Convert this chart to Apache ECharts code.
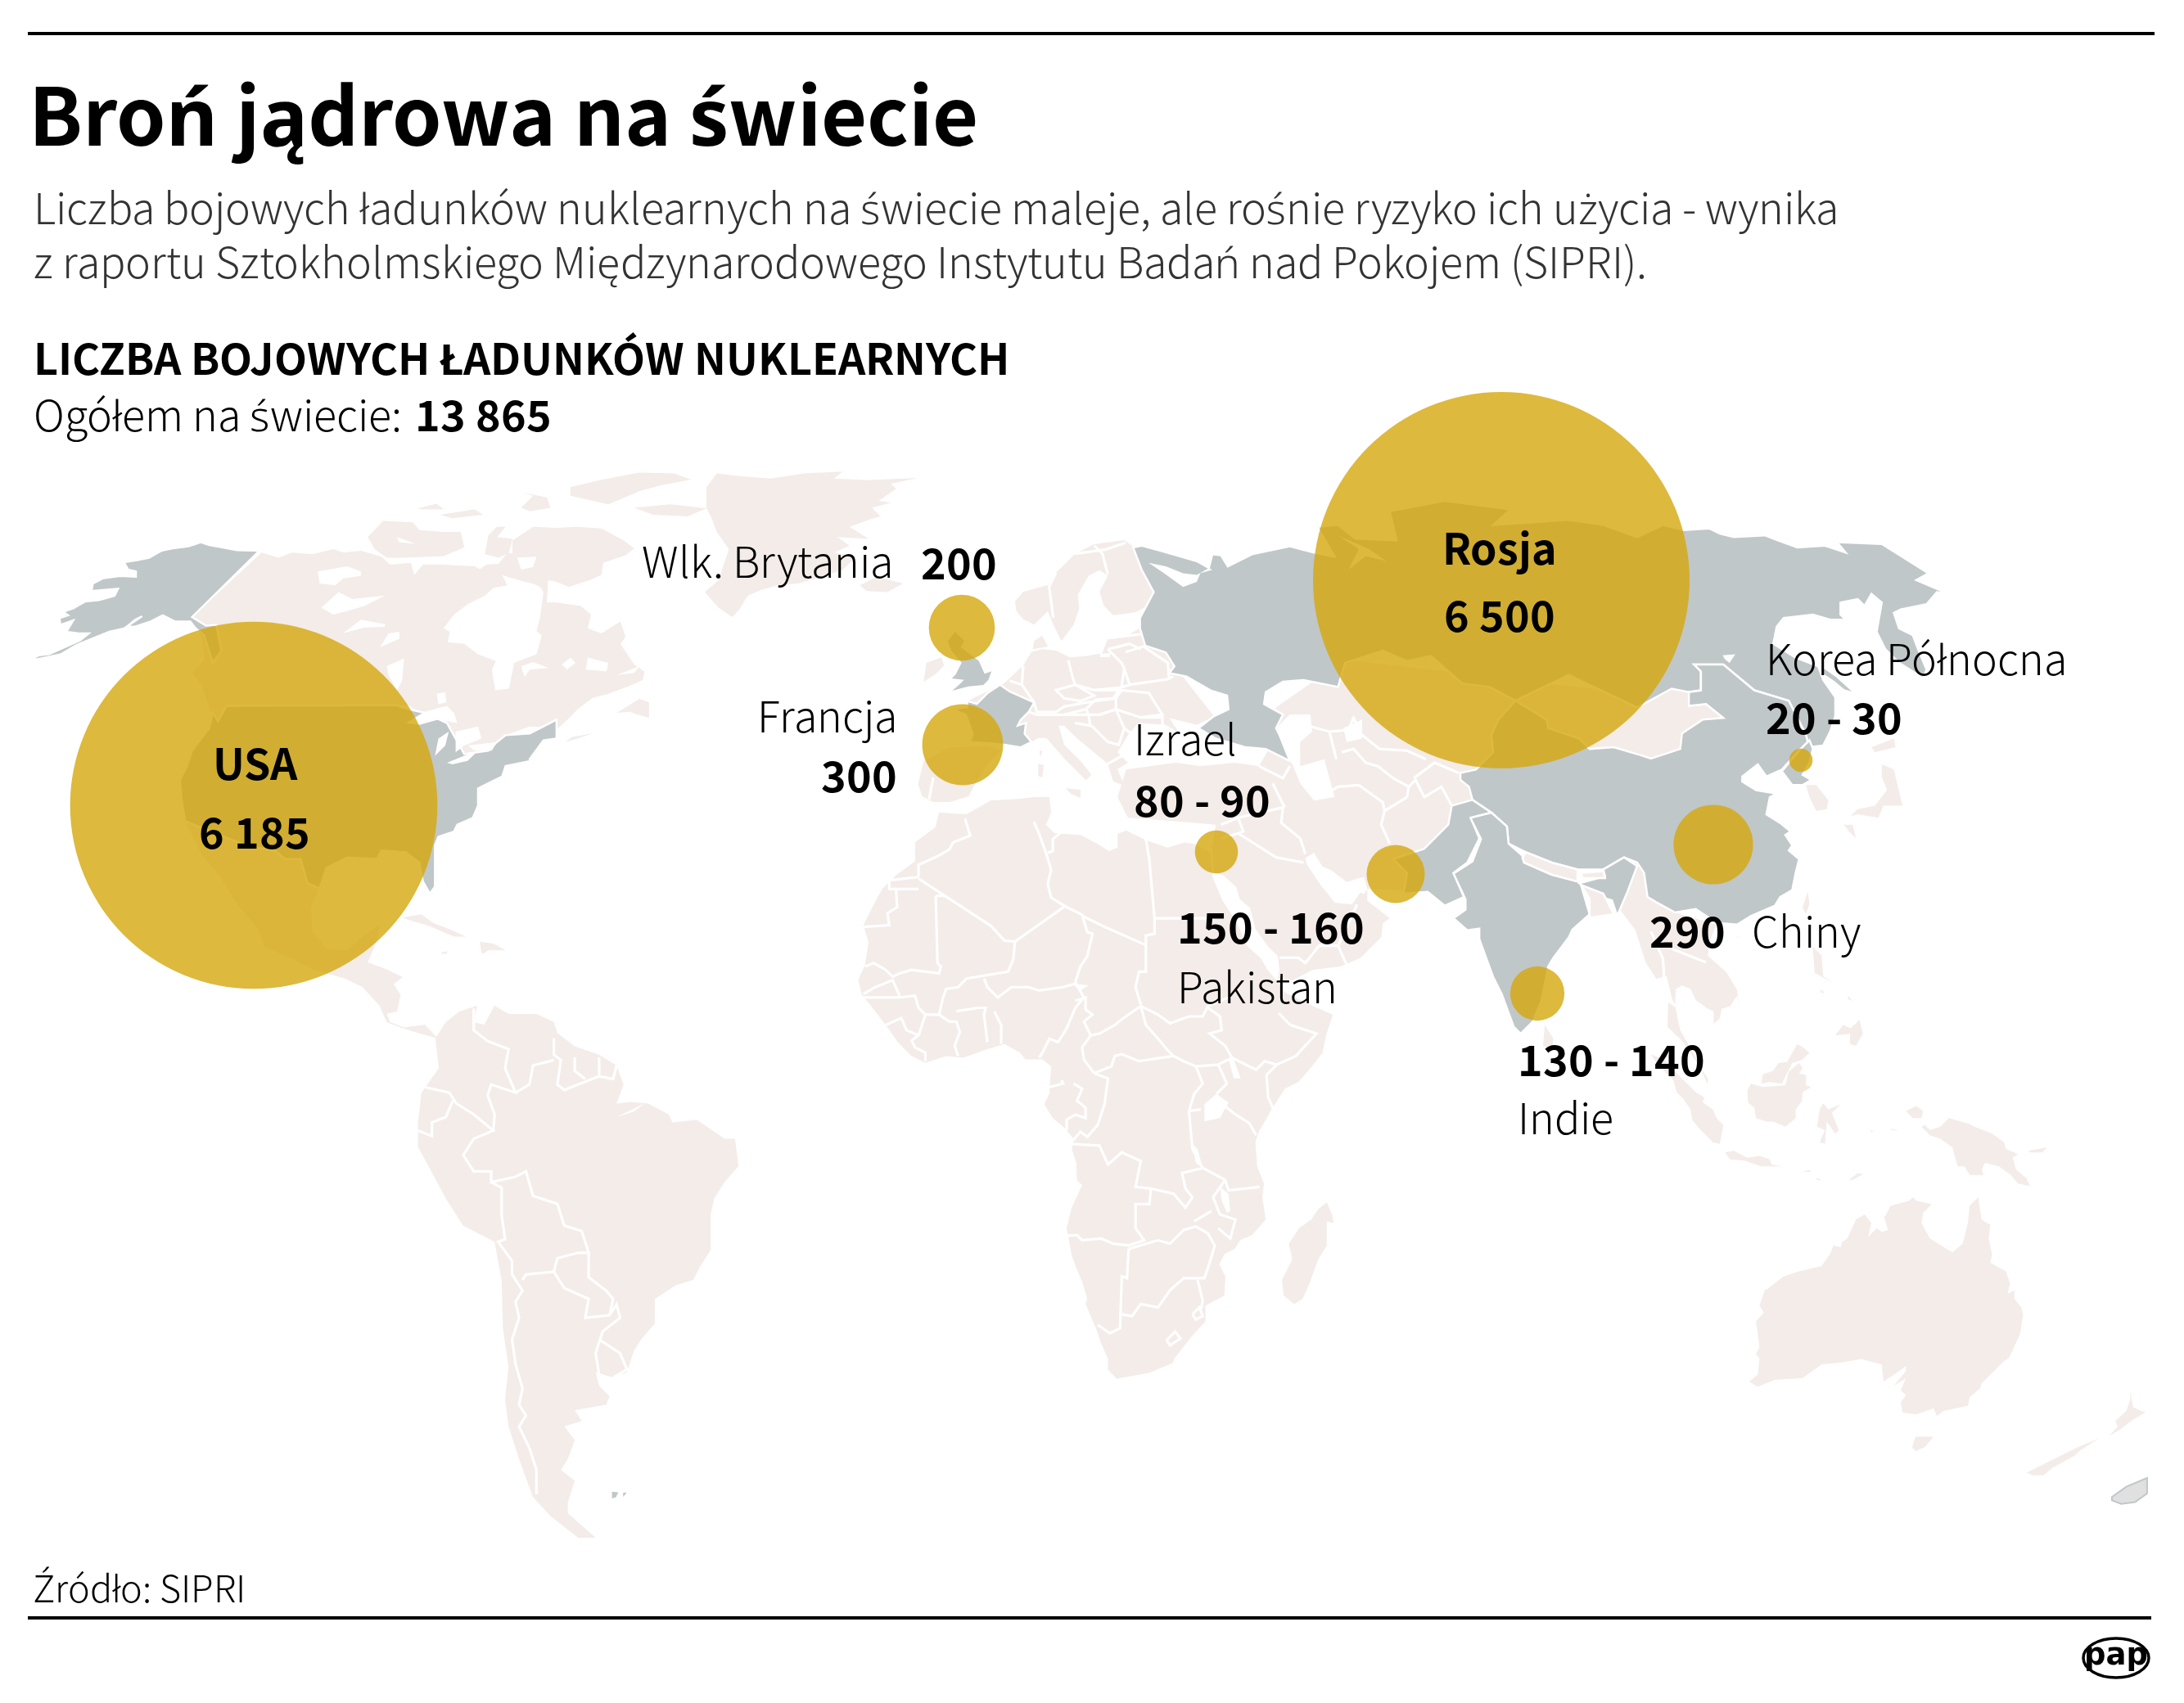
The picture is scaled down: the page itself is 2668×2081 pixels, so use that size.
<!DOCTYPE html>
<html>
<head>
<meta charset="utf-8">
<title>Broń jądrowa na świecie</title>
<style>
  /* the CJK font has the right latin letters but stacks Polish accents badly, so those letters come from the fallback */
  @font-face {
    font-family: "PapBold";
    font-weight: 700;
    src: local("Noto Sans CJK SC Bold"), local("NotoSansCJKsc-Bold");
    unicode-range: U+0020-007E, U+00D3, U+00F3;
  }
  @font-face {
    font-family: "PapLight";
    font-weight: 300;
    src: local("Noto Sans CJK SC Light"), local("NotoSansCJKsc-Light"), local("Noto Sans CJK SC DemiLight"), local("NotoSansCJKsc-DemiLight");
    unicode-range: U+0020-007E, U+00D3, U+00F3;
  }
  html, body { margin: 0; padding: 0; background: #fff; }
  #chart { width: 2668px; height: 2081px; }
</style>
<script src="https://cdn.jsdelivr.net/npm/echarts@6/dist/echarts.min.js"></script>
</head>
<body>
<div id="chart"></div>
<script>
// warheads per country, ranges use their middle for the bubble area
var countries = ['USA', 'Rosja', 'Wlk. Brytania', 'Francja', 'Izrael', 'Pakistan', 'Indie', 'Chiny', 'Korea Północna'];
var warheads = [6185, 6500, 200, 300, 85, 155, 135, 290, 25];
var warheadLabels = ['6 185', '6 500', '200', '300', '80 - 90', '150 - 160', '130 - 140', '290', '20 - 30'];
var bubbleX = [310, 1834, 1175, 1176, 1486, 1705, 1878, 2093, 2200];
var bubbleY = [984, 709, 767, 910, 1041, 1068, 1214, 1032, 929];
var totalLabel = '13 865';

function sheet(ox, oy, sx, sy) {
  sy = sy || sx;
  return function (flat) {
    var pts = [];
    for (var i = 0; i < flat.length; i += 2) {
      pts.push([ox + flat[i] / sx, oy + flat[i + 1] / sy]);
    }
    return pts;
  };
}
var A = sheet(20, 570, 2.376);
var B = sheet(680, 570, 2.376);
var C = sheet(1340, 570, 2.376);
var D = sheet(2000, 570, 2.376);
var E = sheet(1000, 1000, 2.376);
var F = sheet(2000, 1200, 2.376);
var G = sheet(1300, 1000, 2.376);
var K = sheet(1334, 440, 1.175, 1.5077);
var S = sheet(0, 1040, 1.175, 1.5077);
var U = sheet(1060, 640, 3);

var landShapes = [
  // Canada
  [].concat(A([712,250,760,265,800,250,860,255,920,240,950,250,1000,245,1060,262,1085,285,1145,280,1155,315,1180,285,1240,285,1330,290,1345,298,1365,285,1400,283,1425,250,1450,255,1465,300,1510,290,1545,298,1540,395,1568,395]),
    B([70,405,100,430,90,470,130,485,185,450,200,495,185,515,205,545,225,575,255,595,250,620,205,640,150,660,105,672,60,705,45,722,5,760]),
    A([1490,755,1420,780,1395,800,1370,825,1300,835,1255,860,1230,770,1180,720,1140,695,610,695,605,720,580,740,565,715,540,640,510,600,545,560,540,500,510,437])),
  // arctic islands
  A([1020,205,1065,158,1150,162,1170,185,1240,190,1290,190,1300,235,1240,260,1130,265,1075,265,1040,240]),
  A([1165,122,1220,108,1240,125,1180,125]),
  A([1230,140,1330,125,1355,140,1265,150]),
  A([1370,200,1395,175,1420,175,1395,205,1440,210,1430,250,1400,265,1360,255]),
  A([1465,120,1500,85,1470,75,1540,90,1550,120,1490,130]),
  [].concat(A([1440,215,1500,175,1568,178]), B([60,175,130,180,195,215,225,238,200,258,135,280,130,315,95,330,35,350,0,335]), A([1520,325,1500,290,1510,262,1440,265])),
  B([40,60,125,40,240,18,340,20,390,38,300,55,240,72,150,110,40,85]),
  B([225,120,330,110,435,122,380,145,280,140]),
  // Greenland, Iceland
  B([435,60,465,20,530,28,620,35,720,20,830,15,805,35,900,40,1050,33,970,50,985,65,935,100,970,105,915,120,940,145,905,155,850,175,905,210,815,205,850,230,805,250,870,262,830,300,770,320,700,340,640,345,590,360,555,375,530,415,510,437,470,410,430,365,470,330,500,240,465,190,450,150,435,120]),
  B([880,345,930,320,1005,340,960,365,900,362]),
  // Newfoundland, Nova Scotia
  B([175,715,240,675,268,685,268,730,210,712]),
  B([25,800,45,785,105,775,60,790]),
  // Mexico and Central America
  [].concat(A([880,1225,855,1280,860,1350,900,1400,960,1405,1010,1360,1055,1330,1045,1380,1020,1440]),
    S([528,205,555,218,578,232,565,245,575,265,570,295,555,300,560,315,580,325,610,320,628,345,600,335,575,325,555,315,545,285,520,250,495,235]),
    A([860,1460,800,1430,720,1395,700,1340,640,1270,590,1190,540,1130,490,1030,590,1070,680,1105,750,1115,780,1140,825,1140,845,1210])),
  A([1120,1310,1175,1300,1210,1325,1260,1345,1305,1365,1270,1365,1200,1335,1150,1320]),
  A([1350,1410,1345,1380,1385,1385,1420,1405,1370,1405,1355,1415]),
  A([1235,1410,1250,1408,1250,1415,1235,1415]),
  // South America
  S([625,345,640,315,660,295,685,285,680,315,695,320,710,285,730,300,770,300,795,315,800,335,825,360,860,375,885,395,895,430,885,465,905,462,930,465,960,485,965,500,1000,495,1040,530,1055,530,1060,580,1040,610,1025,640,1020,670,1020,735,1005,765,995,790,970,800,940,825,940,870,920,900,910,920,900,960,880,970,855,960,860,985,875,1005,870,1020,825,1030,835,1050,810,1060,825,1085,815,1120,805,1140,825,1160,815,1200,815,1220,855,1265,830,1265,790,1225,765,1190,745,1120,730,1060,725,1010,730,950,722,880,720,790,710,720,665,690,640,640,615,580,600,545,600,500,605,445,630,400]),
  // Africa
  [].concat(B([1110,1005,1190,1010,1260,970,1340,965,1385,960,1430,960,1435,1005,1420,1040,1445,1065,1520,1070,1568,1095]),
    G([130,95,155,85,155,45,180,35,240,65,300,85,350,70,380,75,425,100,430,170,460,240,500,300,530,370,570,405,590,440,620,475,640,505,700,535,780,570,760,630,750,680,715,725,680,765,640,785,605,840,565,910,555,940,560,1010,580,1060,575,1100,585,1165,545,1210,510,1225,495,1250,465,1265,450,1295,468,1330,465,1385,410,1415,410,1460,365,1510,320,1568]),
    E([1027,1582,960,1610,865,1627,840,1600,840,1568,820,1525,805,1480,775,1410,780,1395,765,1345,750,1310,735,1270,720,1190,735,1130,765,1065,750,1050,748,1000,735,960,740,930,715,900,680,870,655,830,670,800,675,720,650,700,600,700,585,680,540,655,490,670,420,695,370,690,310,710,270,690,230,650,195,600,160,555,125,510,115,470,135,425,145,360,130,310,160,250,185,205,225,165,280,125,280,70,340,25,345,0])),
  E([1475,1115,1490,1150,1495,1175,1475,1170,1475,1240,1450,1280,1425,1350,1405,1395,1380,1410,1350,1385,1345,1340,1375,1280,1365,1235,1395,1190,1430,1165,1450,1135]),
  // Europe
  [].concat(U([365,650,500,585,570,520,600,470,640,460,690,465,740,490,800,485,860,475,880,420,960,405,1000,380,1010,320]),
    C([180,450,225,580,340,725,290,750,210,730,240,775,200,750,120,745,90,780,60,830,90,860]),
    U([915,900,940,960,900,945,880,880,820,830,760,780,720,740,700,740,720,810,780,870,820,920,800,940,720,860,655,785,625,785,600,800,500,700])),
  U([205,870,300,820,440,815,490,830,440,880,395,950,370,1000,300,1020,240,1020,200,1000,185,955]),
  U([540,285,570,250,660,225,690,180,760,110,830,75,940,60,975,85,1000,150,1050,260,1010,310,980,325,900,335,865,300,850,250,880,190,850,170,810,190,770,260,775,310,755,370,710,430,680,370,660,320,610,370,570,350,545,320]),
  U([610,430,640,410,660,450,605,460]),
  U([215,510,270,490,280,520,250,550,205,580]),
  U([725,970,780,975,780,1005,745,990]),
  U([625,880,645,885,640,930,625,925]),
  U([630,830,640,835,632,855]),
  // western and central Asia
  [].concat(C([85,880,60,960,90,1020,230,1030,345,1040,335,1105,340,1180]),
    G([462,165,500,200,510,235,540,260,555,320,590,370,620,400,625,440,620,465,665,470,720,440,800,430,815,425,860,405,890,375,920,345,925,305,945,290,920,270,880,240,880,205]),
    C([960,1235,1015,1275,1100,1100,1300,1000,1568,900,1568,660,1215,620,720,560,520,700,500,820,470,870,400,860,300,870,230,860])),
  // Mongolia
  D([0,700,100,645,150,655,150,695,200,690,250,730,190,735,130,775,125,820,40,848,0,835]),
  // Burma, Indochina, Malaya
  [].concat(K([745,990,780,1050,795,1110,810,1140,825,1135,835,1190]),
    F([90,60,88,130,130,170,205,280,205,298,170,220,125,140,110,70,112,20,130,10,155,20,170,52,205,78,222,85,222,122,240,105,245,78,270,70,290,40]),
    D([295,1568,290,1520,260,1470,205,1420,210,1380,230,1330,110,1295,55,1265,30,1250,20,1180,0,1140,-30,1140,-100,1270])),
  // islands of the east
  D([490,925,520,925,555,970,550,995,520,1000,500,960]),
  D([710,865,745,880,770,985,715,985,700,1020,640,1010,620,1015,640,995,690,985,725,940,710,900]),
  D([680,815,745,790,750,815,690,830]),
  D([600,1040,625,1040,635,1080,615,1060]),
  D([480,1280,495,1235,500,1270,490,1300]),
  D([510,1395,535,1420,540,1480,570,1500,515,1470]),
  G([1395,600,1420,640,1415,675,1390,660]),
  F([575,155,598,125,620,135,645,110,655,150,635,185,618,180,618,150]),
  F([530,20,545,30,535,32]),
  F([612,40,625,55,612,50]),
  F([320,315,330,295,365,305,430,300,440,260,470,235,480,250,470,265,490,270,490,300,505,305,480,320,478,345,460,370,460,395,430,420,395,405,375,405,345,395,340,365,322,350]),
  F([360,295,365,268,395,258,410,235,435,232,465,180,478,188,500,205,480,225,450,235,435,265,420,295,385,290]),
  F([40,210,80,225,120,270,170,320,195,335,190,350,220,370,230,395,250,415,240,470,220,465,180,425,160,400,155,370,135,340,115,320,105,285,60,240]),
  F([255,495,280,490,320,510,355,505,385,515,390,530,420,535,360,535,310,518,270,515]),
  F([540,352,555,370,590,355,565,380,585,430,575,440,550,405,545,470,530,465,545,430,522,420,530,370]),
  F([780,375,810,360,830,375,825,395,800,395]),
  F([835,415,850,430,880,420,905,395,965,412,978,420,1030,440,1065,465,1070,485,1105,500,1090,510,1100,545,1130,570,1140,592,1105,585,1085,560,1050,535,1010,525,1000,545,1005,560,965,560,950,535,930,535,915,480,880,455,850,445,825,420]),
  F([1135,490,1190,480,1175,495,1140,495]),
  F([615,575,640,555,655,558,625,575]),
  F([480,550,500,545,505,552]),
  F([520,568,535,575,522,575]),
  F([735,425,760,432,740,430]),
  F([675,432,688,432,680,436]),
  F([720,680,735,650,790,635,800,625,810,635,855,645,830,670,825,700,850,745,890,770,915,785,945,760,960,700,965,650,990,625,995,660,1000,690,1025,705,1020,745,1030,790,1025,815,1070,840,1082,875,1075,905,1095,895,1095,920,1115,945,1120,965,1112,1020,1080,1090,1060,1105,1000,1165,995,1180,965,1205,960,1230,890,1245,870,1260,860,1238,810,1255,770,1250,765,1220,780,1200,765,1185,780,1150,745,1172,780,1130,780,1115,745,1140,715,1160,710,1110,650,1095,590,1105,535,1110,480,1150,400,1155,350,1175,325,1160,350,1140,355,1095,345,1080,355,1060,350,1020,345,985,368,960,355,940,370,895,380,890,425,855,470,840,535,825,560,790,570,765,590,770,595,755,610,745,635,690,660,675,680,700,670,740,695,715,710,725,728,720,716,680]),
  F([808,1320,860,1320,835,1350,808,1362,798,1350]),
  F([1430,1185,1440,1235,1475,1250,1440,1270,1400,1300,1370,1318,1395,1290,1388,1275,1420,1245,1432,1210]),
  F([1130,1425,1190,1395,1280,1350,1340,1325,1285,1360,1270,1375,1205,1410,1180,1432,1150,1432])
];

// nuclear powers, drawn over the land in grey
var nuclearShapes = {
  alaska: A([705,245,640,243,600,235,560,228,535,220,500,232,450,238,420,245,385,265,350,272,312,278,325,300,347,305,347,320,300,318,250,325,222,340,218,362,295,355,285,375,240,388,200,392,165,412,135,422,150,432,125,440,128,460,165,447,145,480,185,485,210,485,185,505,140,525,95,545,65,548,35,565,85,555,130,545,175,518,220,500,270,480,315,470,345,445,365,435,320,465,345,465,390,450,425,432,460,450,505,450,520,470,545,490,570,570,595,535,580,460,550,462,510,437]),
  usa: [].concat(A([610,695,1100,693,1140,705,1185,715,1250,745,1300,835,1370,825,1395,800,1420,780,1490,775,1568,735,1568,790,1530,795,1490,850,1495,855,1420,870,1410,900,1370,920,1340,935,1340,985,1325,1020,1280,1040,1270,1060,1225,1075,1215,1100,1215,1220,1200,1240,1180,1205,1170,1150,1130,1120,1060,1115,1045,1140,960,1135,900,1165,880,1225,845,1210,825,1140,780,1140,750,1115,680,1105,590,1070,490,1030,480,970,475,910,495,870,510,825,560,760,570,715,585,740])),
  russia: [].concat(C([105,235,130,230,185,245,290,275,325,295,335,255,360,258,380,290,450,255,560,232,630,250,690,262,640,175,700,170,750,210,870,215,850,130,1010,100,1200,125,1150,170,1370,155,1470,170,1568,205]),
    D([75,170,135,185,210,180,240,195,280,205,370,200,410,215,465,235,545,230,605,250,580,220,710,225,845,310,810,330,905,370,870,365,840,400,765,415,745,425,760,470,800,490,815,530,840,590,830,615,760,570,720,530,695,480,710,395,680,370,660,405,640,385,590,395,590,430,605,445,560,445,510,430,425,440,405,465,395,515,460,555,525,580,540,620,575,670,575,725,560,770,540,810,500,815,490,780,440,680,340,650,250,575,165,575,185,595,185,650,150,655,100,645,0,700]),
    C([1400,620,1370,605,1215,680,1140,640,1060,630,970,550,900,565,830,535,720,570,700,640,600,620,540,625,490,655,485,690,540,720,520,760,530,780,560,855,490,820,430,815,345,790,295,760,340,725,382,705,378,665,330,650,260,610,210,600,225,580,200,540,140,520,125,470,125,440,165,365,130,300])),
  sakhalin: D([530,575,580,610,635,660,600,650,570,625,540,605]),
  kaliningrad: U([855,480,885,478,885,485,855,485]),
  china: [].concat(C([1215,680,1305,735,1310,760,1400,790,1430,820,1500,815,1568,835]),
    D([40,848,125,820,130,775,190,735,250,730,200,690,150,695,150,655,185,650,185,595,165,575,250,575,340,650,440,680,490,780,495,800,470,825,420,880,375,900,350,865,305,900,305,915,345,940,405,950,385,960,375,1010,415,1035,445,1060,430,1070,450,1100,440,1115,470,1140,460,1180,450,1230,415,1250,400,1275,330,1305,290,1330,230,1325,170,1285,110,1295,55,1265,30,1250,20,1180,0,1150]),
    C([1530,1135,1470,1170,1395,1170,1320,1150,1245,1120,1195,1095,1190,1045,1145,1005,1090,968,1080,930,1055,910,1055,890,1100,880,1150,830,1145,780,1165,735])),
  hainan: D([270,1385,295,1370,300,1340,285,1375]),
  pakistan: C([1030,985,1020,1040,950,1110,860,1140,900,1180,890,1240,960,1235,1010,1275,1065,1250,1035,1180,1075,1150,1110,1080,1085,1020,1145,1005,1090,968]),
  india: [].concat(C([1085,1020,1145,1005,1190,1045,1195,1095,1235,1130,1240,1150,1320,1185,1395,1205,1400,1210,1475,1190,1470,1170,1530,1135,1568,1160,1540,1235,1510,1305,1495,1260,1430,1240,1405,1215,1430,1300,1380,1345]),
    G([1465,345,1420,405,1405,430,1385,530,1360,590,1325,625,1305,605,1270,510,1245,460,1205,350,1205,320,1170,325,1130,290,1165,265,1165,235,1130,160,1185,125,1210,60,1180,0])),
  uk: U([330,400,360,430,345,450,370,470,410,500,430,545,460,535,445,575,425,595,370,600,330,610,295,620,330,590,345,575,300,570,320,550,340,510,305,470,290,430,320,390]),
  france: U([365,650,400,660,440,620,485,590,520,615,610,655,590,690,560,720,550,740,580,730,575,770,600,800,560,820,500,810,450,805,375,800,385,770,360,700,310,680,365,672]),
  northKorea: D([420,885,450,925,480,925,505,910,480,895,500,860,510,820,500,795,470,825]),
  falkland1: S([877,1178,890,1180,885,1192,877,1195]),
  falkland2: S([893,1180,903,1180,893,1195])
};

// lakes and inlets cut out of the land
var waterShapes = [
  A([1258,480,1240,470,1270,430,1310,400,1360,375,1385,352,1425,345,1410,315,1440,325,1505,342,1520,350,1530,365,1520,440,1510,478,1525,490,1510,545,1445,570,1430,645,1390,650,1380,590,1392,565,1340,545,1300,515,1252,510]),
  A([875,305,960,290,1000,305,1000,318,950,325,925,345,880,340]),
  A([885,410,935,365,975,385,1070,375,1010,405,960,420,920,430]),
  A([948,484,1000,445,1070,458,1070,465,1010,468]),
  A([1055,525,1080,485,1112,480,1112,500]),
  A([1075,580,1125,558,1120,620,1105,650,1080,605]),
  A([1220,660,1245,655,1248,685,1225,690]),
  A([1465,580,1500,568,1545,585,1490,590,1475,612]),
  A([1105,205,1160,225,1110,220]),
  A([1130,745,1185,712,1250,695,1270,715,1280,745,1225,735,1170,750]),
  A([1225,790,1255,770,1245,810,1215,840]),
  A([1275,770,1340,755,1350,790,1300,810,1275,830]),
  A([1250,860,1300,840,1340,825,1310,855,1265,865]),
  A([1310,810,1395,800,1380,825,1330,825]),
  B([15,575,40,555,55,570,30,590]),
  B([85,590,90,555,150,570,145,595]),
  B([175,605,240,580,225,600]),
  S([885,490,925,465,910,480]),
  C([150,280,195,310,250,350,290,335,300,310,335,300,325,295,290,315,250,310,200,290]),
  C([700,200,760,240,730,300,780,260,840,275,790,240]),
  C([520,760,560,720,620,720,625,770,590,800,590,870,660,850,690,960,630,970,590,920,565,860,540,800]),
  C([715,760,770,735,770,790,725,800]),
  G([700,115,725,100,750,140,775,150,820,185,870,170,880,205,870,220,860,215,835,250,785,245,770,225,745,195,705,135]),
  D([248,548,285,545,268,570,255,560]),
  E([1120,830,1155,800,1190,825,1165,870,1120,880]),
  E([1085,945,1100,960,1115,1015,1095,1000]),
  E([1165,1070,1190,1090,1195,1140,1185,1145,1170,1110]),
  E([1190,700,1205,700,1225,755,1205,755]),
  E([735,480,785,485,760,500])
];

// the small pale patch under New Zealand
var insetShape = F([1378,1495,1420,1465,1480,1440,1480,1485,1445,1510,1405,1515,1378,1505]);

var borderLines = [
  // South America
  S([680,290,680,330,700,350,730,365,725,400,735,430,740,445,705,430,700,450,710,485,708,515]),
  S([610,435,645,445,655,465,680,485,708,515,680,530,665,560,680,590,705,590,705,610,740,600,755,590,765,635,800,650,810,690,835,700,845,740]),
  S([650,460,640,490,620,500,620,525,600,515]),
  S([705,610,720,620,720,670,725,715,715,720,735,755,735,780,750,810,740,830,745,860,735,900,740,945,750,990,745,1020,755,1040,745,1060,760,1100,770,1140,770,1185]),
  S([750,790,755,780,795,775,800,750,830,740,845,740,845,785,870,810,880,825,875,855,840,860,845,825,810,805,795,775]),
  S([875,855,885,835,890,860,865,885,855,925,860,965]),
  S([860,900,890,925,900,955,880,970]),
  S([795,345,795,375,805,385,800,430,810,440,850,420,860,415,880,420,885,395]),
  S([740,445,760,430,765,395,795,385]),
  S([825,380,825,405,840,420]),
  S([860,380,860,415]),
  // Africa
  E([290,170,290,135,345,110,380,90,390,70,440,50,425,0]),
  E([290,170,205,180,205,205,290,205,225,205,228,258,200,275,205,310,130,315]),
  E([290,175,500,312,540,355,570,358,715,255,675,230,665,190,675,150,660,100,640,45,625,10]),
  E([665,100,680,95,680,60,705,40]),
  E([340,225,365,225]),
  E([340,225,345,420,355,430,350,450,270,440,235,450,215,460,195,440,160,420,135,430]),
  E([570,358,565,410,550,445,430,465,405,490,370,495,360,525,350,570]),
  E([715,255,765,280,780,330,795,335,780,400,760,430,745,475]),
  E([480,465,490,490,520,520,560,490,610,490,640,500,710,490,745,480]),
  E([770,285,830,315,950,368]),
  E([950,60,960,120,975,290,975,335,950,340,950,445,930,445,920,490,935,540]),
  E([975,290,1150,290]),
  E([790,630,815,625,860,600,885,580,935,545,950,600,990,645,1010,670,1030,690,1060,705,1095,720]),
  E([745,530,775,520,775,555,795,570,770,590,790,630,765,665,770,700,800,740]),
  E([745,475,770,520,745,550,720,610,695,650,670,640,650,680,640,695]),
  E([935,545,985,570,1020,595,1075,575,1115,575,1130,545,1190,520]),
  E([1130,550,1165,575,1170,615,1135,625,1180,660,1200,695]),
  E([1095,720,1160,715,1200,695,1270,730,1295,705,1330,715,1385,690,1445,625,1370,600,1335,565]),
  E([1330,715,1300,745,1305,810,1320,845]),
  E([1160,820,1210,860,1250,885,1270,920]),
  E([1095,720,1115,770,1090,800,1075,850,1085,960,1115,1015,1180,1050,1190,1080,1280,1070]),
  E([1160,715,1185,770,1155,800]),
  E([800,740,850,720,860,690,880,685,930,705,1030,690]),
  E([800,740,840,755,830,830,810,890,780,925,760,910,730,945,815,950,840,1005,880,970,935,995,920,1070,965,1075,1030,1090,1065,1130,1085,1100,1065,1075,1055,1030,1115,1015]),
  E([965,1075,960,1120,920,1120,920,1190,945,1225,900,1240,855,1235,820,1220,765,1225,750,1210,720,1212]),
  E([900,1250,985,1225,1020,1235,1060,1195,1095,1185,1130,1205,1150,1240,1135,1290,1120,1335,1060,1335,1020,1370,985,1420,935,1410,910,1445,880,1440]),
  E([1180,1050,1145,1100,1165,1150,1210,1165,1195,1220,1160,1190]),
  E([1090,1170,1140,1140]),
  E([900,1250,895,1335,880,1330,875,1480,845,1495,810,1470]),
  E([1100,1340,1115,1400,1110,1425]),
  E([1085,1440,1105,1420,1115,1445,1095,1455,1085,1440]),
  E([1010,1515,1035,1490,1050,1510,1020,1530,1010,1515]),
  E([1075,850,1110,845]),
  E([130,520,190,520,235,520,280,515,290,550,310,570,350,570,380,590,400,590,410,620,395,660,405,690]),
  E([400,560,465,550,485,550,480,570,490,650]),
  E([510,560,530,600,530,655]),
  E([195,600,240,580,255,615,290,630,270,645,280,665,310,680,310,705]),
  E([290,630,310,570]),
  E([130,510,165,490,215,470,235,515]),
  E([670,780,710,770,705,760]),
  E([740,770,765,785,750,820,775,840,775,870,745,860,720,875,720,905]),
  // Europe
  U([570,520,565,590,610,655]),
  U([565,590,520,575]),
  U([735,500,750,560,760,590,690,610,720,640,780,650,830,630,760,590]),
  U([610,655,620,690,690,690,720,670,830,650,800,680,720,700,620,700,590,690]),
  U([760,590,830,610,930,600,940,530,930,510,880,460]),
  U([830,610,920,610,900,640,830,645]),
  U([830,650,910,640,910,680,850,700,810,700,800,680]),
  U([940,530,960,590,1100,570,1120,560]),
  U([930,600,960,590]),
  U([945,470,1010,450,1100,510,1105,570]),
  U([880,460,960,440,1000,460]),
  U([880,420,1000,405]),
  U([910,640,930,610,1030,620,1080,700,1000,710,910,680]),
  U([1000,710,1080,710,1080,760,980,780,940,750]),
  U([850,700,910,680,940,750,920,810,880,800,820,740]),
  U([720,700,810,700,815,740,760,730]),
  U([880,880,950,840,1050,850]),
  U([690,180,665,230,680,345]),
  U([880,185,860,110,830,80]),
  U([760,110,870,95,945,70]),
  U([240,930,225,1010]),
  // Middle East and Central Asia
  C([620,755,675,770,695,850]),
  C([675,770,730,765,745,730,770,780,820,820,900,825,955,850]),
  C([710,830,745,820,780,860,815,870,860,905,905,930,900,960]),
  C([640,965,700,930,760,925,830,975,835,1000,825,1040,850,1095]),
  C([900,960,835,1000]),
  C([905,930,925,910,950,960,1000,930,1030,985]),
  C([920,905,980,860,1050,890]),
  C([360,1040,410,1020,540,990,535,1035,590,1080,605,1125]),
  C([510,920,545,990]),
  C([410,1065,520,1135,600,1150]),
  C([410,1020,425,1060,410,1065,360,1080]),
  C([470,870,540,905,560,870]),
  G([625,405,680,405,700,420,740,370,795,370,820,425]),
  G([795,370,850,250]),
  // Indochina
  D([40,1350,75,1430,80,1520,110,1568]),
  D([100,1400,200,1440])
];

// Nepal, Bhutan and Bangladesh are small pink islands on top of the grey
var smallLandShapes = [
  C([1235,1135,1245,1120,1320,1150,1395,1170,1395,1205,1320,1185,1240,1150]),
  C([1405,1180,1470,1175,1475,1195,1410,1195]),
  C([1405,1215,1470,1240,1500,1300,1430,1310,1430,1255])
];

function polygonFeature(name, ring) {
  return {
    type: 'Feature',
    properties: { name: name },
    geometry: { type: 'Polygon', coordinates: [ring.concat([ring[0]])] }
  };
}

var features = [];
var regions = [];
landShapes.forEach(function (ring, i) {
  features.push(polygonFeature('land' + i, ring));
  regions.push({ name: 'land' + i, itemStyle: { areaColor: '#f3ece9', borderWidth: 0 } });
});
Object.keys(nuclearShapes).forEach(function (key) {
  features.push(polygonFeature(key, nuclearShapes[key]));
  regions.push({ name: key, itemStyle: { areaColor: '#c0c7c9', borderColor: '#fff', borderWidth: 2.5 } });
});
smallLandShapes.forEach(function (ring, i) {
  features.push(polygonFeature('small' + i, ring));
  regions.push({ name: 'small' + i, itemStyle: { areaColor: '#f3ece9', borderColor: '#fff', borderWidth: 2.5 } });
});
waterShapes.forEach(function (ring, i) {
  features.push(polygonFeature('water' + i, ring));
  regions.push({ name: 'water' + i, itemStyle: { areaColor: '#fff', borderWidth: 0 } });
});
features.push(polygonFeature('inset', insetShape));
regions.push({ name: 'inset', itemStyle: { areaColor: '#dfe0df', borderColor: '#c0c7c9', borderWidth: 2 } });

echarts.registerMap('pap-world', { type: 'FeatureCollection', features: features });

var BOLD_FONT = 'PapBold, "Noto Sans"';
var LIGHT_FONT = 'PapLight, "Noto Sans", Lato';
var BASE_K = 0.38; // from text middle to baseline, in font sizes

function text(str, x, baseline, size, weight, align, fill) {
  return {
    type: 'text',
    silent: true,
    z: 50,
    style: {
      text: str,
      x: x,
      y: baseline - BASE_K * size,
      fontFamily: weight === 700 ? BOLD_FONT : LIGHT_FONT,
      fontSize: size,
      fontWeight: weight,
      align: align || 'left',
      verticalAlign: 'middle',
      fill: fill || '#000'
    }
  };
}

var NAME = 52, NUM = 52;
var graphics = [
  { type: 'rect', silent: true, shape: { x: 34, y: 39, width: 2598, height: 4 }, style: { fill: '#000' } },
  { type: 'rect', silent: true, shape: { x: 34, y: 1975, width: 2594, height: 4 }, style: { fill: '#000' } },
  text('Broń jądrowa na świecie', 35, 178, 96.8, 700),
  text('Liczba bojowych ładunków nuklearnych na świecie maleje, ale rośnie ryzyko ich użycia - wynika', 41, 274, 52, 300, 'left', '#333'),
  text('z raportu Sztokholmskiego Międzynarodowego Instytutu Badań nad Pokojem (SIPRI).', 41, 340, 52, 300, 'left', '#333'),
  text('LICZBA BOJOWYCH ŁADUNKÓW NUKLEARNYCH', 41, 458, 52, 700),
  text('Ogółem na świecie: ', 41, 527, 52, 300),
  text(totalLabel, 507, 527, 52, 700),
  text('Źródło: SIPRI', 41, 1958, 45, 300),
  text(countries[0], 311, 953, NUM, 700, 'center'),
  text(warheadLabels[0], 311, 1037, NUM, 700, 'center'),
  text(countries[1], 1832, 690, NUM, 700, 'center'),
  text(warheadLabels[1], 1832, 772, NUM, 700, 'center'),
  text(countries[2], 784, 706, NAME, 300),
  text(warheadLabels[2], 1125, 708, NUM, 700),
  text(countries[3], 1096, 895, NAME, 300, 'right'),
  text(warheadLabels[3], 1096, 968, NUM, 700, 'right'),
  text(countries[4], 1385, 923, NAME, 300),
  text(warheadLabels[4], 1385, 998, NUM, 700),
  text(warheadLabels[5], 1438, 1153, NUM, 700),
  text(countries[5], 1438, 1226, NAME, 300),
  text(warheadLabels[6], 1854, 1315, NUM, 700),
  text(countries[6], 1854, 1386, NAME, 300),
  text(warheadLabels[7], 2015, 1158, NUM, 700),
  text(countries[7], 2140, 1158, NAME, 300),
  text(countries[8], 2157, 825, NAME, 300),
  text(warheadLabels[8], 2157, 897, NUM, 700),
  // agency mark
  { type: 'ellipse', silent: true, z: 50, shape: { cx: 2585, cy: 2026, rx: 40, ry: 24 }, style: { fill: '#fff', stroke: '#000', lineWidth: 3.5 } },
  {
    type: 'text', silent: true, z: 51,
    style: { text: 'pap', x: 2585, y: 2024, fontFamily: '"DejaVu Sans"', fontWeight: 700, fontSize: 37, align: 'center', verticalAlign: 'middle', fill: '#000' }
  }
];

function draw() {
  var chart = echarts.init(document.getElementById('chart'), null, { renderer: 'canvas', width: 2668, height: 2081 });

  chart.setOption({
    animation: false,
    backgroundColor: '#fff',
    tooltip: { show: false },
    geo: {
      map: 'pap-world',
      left: 0,
      top: 0,
      width: 2668,
      height: 2081,
      roam: false,
      silent: true,
      boundingCoords: [[0, 0], [2668, 2081]],
      projection: {
        project: function (p) { return p; },
        unproject: function (p) { return p; }
      },
      label: { show: false },
      itemStyle: { areaColor: '#f3ece9', borderWidth: 0 },
      emphasis: { disabled: true },
      select: { disabled: true },
      regions: regions
    },
    series: [
      {
        type: 'lines',
        coordinateSystem: 'geo',
        polyline: true,
        silent: true,
        z: 3,
        lineStyle: { color: '#fff', width: 3.2, opacity: 1 },
        data: borderLines.map(function (coords) { return { coords: coords }; })
      },
      {
        type: 'scatter',
        coordinateSystem: 'geo',
        silent: true,
        z: 10,
        itemStyle: { color: '#d4a70c', opacity: 0.8 },
        symbolSize: function (v) { return Math.sqrt(v[2] / 6500) * 460; },
        data: warheads.map(function (v, i) { return [bubbleX[i], bubbleY[i], v]; })
      }
    ],
    graphic: graphics
  });
}

// local font faces load lazily and the canvas needs them before drawing
Promise.all([
  document.fonts.load('700 52px PapBold', 'Abc'),
  document.fonts.load('300 52px PapLight', 'Abc')
]).then(draw, draw);
</script>
</body>
</html>
